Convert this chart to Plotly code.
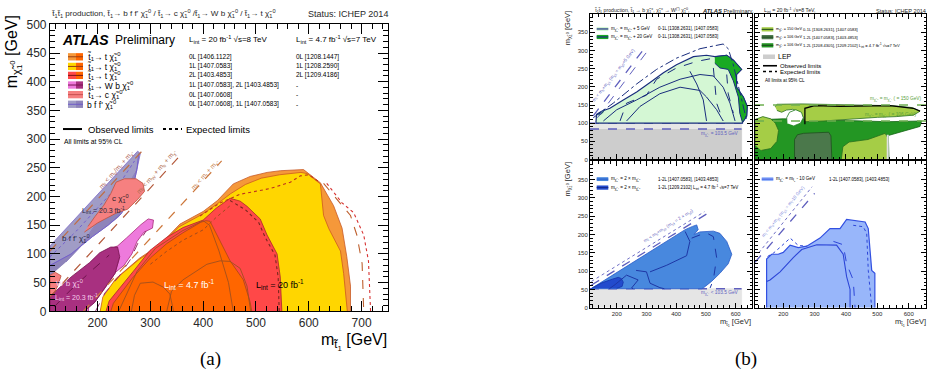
import plotly.graph_objects as go

W, H = 930, 380
SANS = "Liberation Sans, Arial, sans-serif"
SERIF = "Liberation Serif, Times New Roman, serif"
ST = "t̃<sub>1</sub>"
CHI = "χ̃<sub>1</sub><sup>0</sup>"
CHIPM = "χ̃<sub>1</sub><sup>±</sup>"

# ================= Panel (a): (m_stop, m_LSP) contours in GeV =================
a_xrange = [110, 750]
a_yrange = [0, 500]
tchi_0L_8TeV = [(206,0),(212,25),(236,58),(280,93),(318,116),(356,152),(400,174),(427,193),(457,222),(489,235),(521,242),(546,245),(590,247),(622,224),(647,184),(663,145),(672,95),(679,44),(679,0)]
tchi_1L_8TeV = [(205,0),(210,25),(234,56),(278,90),(316,113),(354,147),(398,169),(425,186),(452,205),(480,221),(510,232),(545,238),(585,242),(597,240),(622,222),(628,167),(638,144),(660,105),(666,66),(673,5),(673,0)]
tchi_2L_8TeV = [(216,0),(222,18),(268,70),(299,106),(331,129),(362,146),(400,159),(425,180),(451,197),(470,192),(483,183),(508,161),(521,133),(540,100),(546,60),(549,0)]
tchi_7TeV = [(225,0),(230,14),(265,57),(300,93),(331,118),(362,137),(395,155),(405,158),(413,157),(426,133),(451,88),(476,55),(489,16),(492,0)]
obs_7TeV_A = [(264,0),(270,28),(281,49),(305,51),(325,42),(337,30),(344,0)]
obs_7TeV_B = [(331,0),(340,35),(362,55),(407,82),(432,88),(451,87),(470,75),(483,44),(490,0)]
obs_7TeV_C = [(240,0),(275,70),(310,110),(360,140),(400,158),(412,150),(430,105),(448,50),(457,0)]
exp_0L_8TeV = [(628,223),(653,195),(679,167),(691,133),(701,83),(704,0)]
exp_2L_out = [(634,223),(663,189),(685,172),(704,133),(713,88),(717,0)]
exp_1L_8TeV = [(394,166),(430,188),(470,204),(527,214),(565,225),(584,236),(600,238),(622,224)]
exp_2L_in = [(451,193),(480,177),(505,155),(518,128),(536,98),(542,60),(544,0)]
exp_7TeV = [(300,82),(330,104),(362,124),(400,142),(425,164),(451,184)]
kin_bff = [(110,105),(287,282)]
kin_Wb = [(110,25),(358,273)]
kin_t = [(173,0),(435,262)]
bff_light = [(110,62),(110,114),(276,279),(281,275),(274,245),(255,215),(230,180),(194,148),(169,114),(140,86)]
bff_dark = [(110,62),(110,80),(150,100),(190,130),(220,150),(240,165),(260,190),(272,240),(274,245),(255,215),(230,180),(194,148),(169,114),(140,86)]
bff_line = [(110,80),(150,100),(190,130),(220,150),(245,170),(264,200),(275,250),(278,275)]
bff_exp = [(110,95),(160,140),(200,180),(240,220),(270,262)]
cchi_top = [(175,138),(200,154),(235,171),(257,178),(276,195),(289,209),(286,223),(273,231),(251,231),(235,225),(225,205),(212,185),(195,165),(182,148)]
cchi_low = [(110,28),(110,63),(120,68),(131,62),(125,45),(118,32)]
wb_2L = [(222,108),(238,114),(255,128),(268,139),(282,151),(296,161),(306,159),(304,145),(288,138),(275,122),(265,100),(250,80),(230,65),(205,43),(192,27),(183,8),(183,0),(170,0),(194,15),(216,43),(233,66),(242,95)]
wb_1L = [(110,0),(110,26),(150,60),(185,85),(204,102),(225,112),(238,112),(242,95),(233,66),(216,43),(194,15),(175,0)]
wb_1L_exp = [(118,8),(150,38),(190,72),(222,98)]
wb_2L_exp = [(196,0),(214,32),(240,60),(262,90),(276,118),(292,140)]

# ================= Panel (b): four sub-panels =================
b_xrange = [110, 655]
b_yrange = [0, 400]
# top-left: m_chi+- = m_chi0 + 5 / + 20 GeV
tl_lep_dark = [(110,0),(110,84),(620,84),(620,0)]
tl_lep_light = [(110,84),(110,100),(620,100),(620,84)]
tl_5GeV = [(130,102),(132,124),(149,133),(177,141),(222,164),(267,186),(312,212),(357,239),(401,261),(458,283),(502,287),(530,283),(570,287),(592,274),(620,248),(603,234),(603,199),(626,172),(639,146),(637,119),(623,102),(623,100),(130,100)]
tl_20GeV = [(530,283),(570,287),(592,274),(620,248),(603,234),(603,199),(626,172),(639,146),(637,119),(623,102),(614,128),(609,172),(592,217),(575,248),(547,252),(530,265)]
tl_20GeV_b = [(138,125),(150,133),(160,139),(152,128),(140,121)]
tl_exp_dd = [(121,115),(188,155),(267,208),(334,248),(401,279),(480,305),(558,318),(575,305),(592,261),(614,190),(631,128),(637,106)]
tl_obs1 = [(155,106),(200,137),(267,164),(345,199),(413,221),(480,234),(525,230),(558,199),(581,155),(598,106)]
tl_obs2 = [(233,106),(278,146),(345,181),(413,199),(480,190),(502,172),(536,137),(558,106)]
tl_obs3 = [(446,243),(469,208),(491,164),(502,106)]
tl_exp1 = [(211,106),(233,155),(300,177),(334,221),(401,252),(469,270),(525,279)]
tl_exp2 = [(525,252),(530,199),(536,155),(558,106)]
tl_exp3 = [(570,234),(575,181),(592,128)]
tl_kin1 = [(121,120),(289,302)]
tl_kin2 = [(135,115),(300,295)]
tl_lep_lines = [100, 84]
# top-right: fixed m_chi+- = 150 / 106 GeV
tr_106_7TeV = [(110,0),(110,100),(140,110),(200,112),(300,110),(400,108),(530,104),(641,106),(636,91),(535,66),(537,0)]
tr_150_top = [(174,145),(180,152),(260,153),(350,152),(450,150),(550,148),(610,143),(636,133),(615,122),(560,118),(500,116),(440,112),(390,108),(330,106),(270,104),(262,118),(250,132),(230,138),(210,136),(195,130),(180,135)]
tr_hole = [(212,100),(211,115),(220,130),(240,137),(258,130),(264,115),(255,100),(235,93)]
tr_150_left = [(110,40),(110,110),(135,118),(160,112),(175,100),(185,80),(180,50),(160,30),(130,25)]
tr_150_mid = [(385,0),(390,35),(410,48),(470,55),(525,72),(533,60),(535,0)]
tr_106_8TeV = [(236,0),(236,55),(245,68),(265,72),(345,75),(352,65),(355,0)]
tr_obs = [(269,97),(269,141),(300,148),(381,146),(540,148),(615,141),(636,133)]
tr_mass_lines = [150, 106]
# bottom-left: m_chi+- = 2 x m_chi0
bl_lep = [(110,0),(110,52),(620,52),(620,0)]
bl_8TeV = [(115,53),(430,213),(455,222),(469,226),(474,213),(460,200),(480,207),(525,209),(547,203),(570,181),(587,146),(575,120),(547,94),(519,72),(491,54),(485,52),(115,52)]
bl_7TeV = [(115,53),(150,68),(185,78),(205,83),(215,80),(222,70),(218,58),(200,53)]
bl_obs1 = [(175,52),(194,63),(233,89),(272,76),(250,54),(255,52)]
bl_obs2 = [(265,102),(300,98),(312,67),(345,55),(360,52)]
bl_obs3 = [(312,98),(368,116),(435,142),(446,181),(430,208)]
bl_exp = [(452,190),(500,205),(525,194),(536,137),(525,76),(514,54)]
bl_kin1 = [(115,62),(505,257)]
bl_kin2 = [(115,72),(495,262)]
bl_lep_line = 52
# bottom-right: m_chi+- = m_stop - 10 GeV
br_8TeV = [(147,0),(147,133),(163,146),(184,146),(200,151),(222,171),(248,164),(275,168),(317,190),(349,216),(381,216),(402,241),(461,234),(471,216),(482,102),(492,94),(492,0)]
br_obs_in = [(147,72),(158,76),(190,98),(232,137),(259,159),(307,172),(370,171),(391,146),(402,85),(413,50),(413,0)]
br_exp_dash = [(360,181),(391,172),(402,120),(423,76),(429,0)]
br_exp_dot = [(423,225),(455,221),(466,203),(471,102),(482,0)]
br_exp_dot2 = [(150,140),(170,150),(190,165),(222,190),(248,170),(275,168)]
br_kin1 = [(110,124),(300,312)]
br_kin2 = [(122,150),(292,330)]

fig = go.Figure()

def xy(pts):
    return [p[0] for p in pts], [p[1] for p in pts]

def poly(pts, ax, fill, line=None, width=0.8, opacity=1.0):
    x, y = xy(pts)
    fig.add_trace(go.Scatter(x=x, y=y, xaxis="x" + ax, yaxis="y" + ax, fill="toself",
                             fillcolor=fill, mode="lines", opacity=opacity,
                             line=dict(color=line or fill, width=width),
                             hoverinfo="skip", showlegend=False))

def curve(pts, ax, color, width=1.0, dash="solid"):
    x, y = xy(pts)
    fig.add_trace(go.Scatter(x=x, y=y, xaxis="x" + ax, yaxis="y" + ax, mode="lines",
                             line=dict(color=color, width=width, dash=dash),
                             hoverinfo="skip", showlegend=False))

def hline(yv, ax, x0, x1, color, width=1.2, dash="dash"):
    curve([(x0, yv), (x1, yv)], ax, color, width, dash)

def ptxt(px, py, s, size, color="black", xanchor="left", angle=0, family=SANS, yanchor="middle"):
    fig.add_annotation(x=px / W, y=1 - py / H, xref="paper", yref="paper", text=s, showarrow=False,
                       font=dict(size=size, color=color, family=family), xanchor=xanchor,
                       yanchor=yanchor, textangle=angle, borderpad=0)

def dtxt(x, y, ax, s, size, color="black", angle=0, xanchor="center"):
    fig.add_annotation(x=x, y=y, xref="x" + ax, yref="y" + ax, text=s, showarrow=False,
                       font=dict(size=size, color=color, family=SANS), textangle=angle,
                       xanchor=xanchor, borderpad=0)

def prect(px0, py0, px1, py1, color):
    fig.add_shape(type="rect", xref="paper", yref="paper", x0=px0 / W, x1=px1 / W,
                  y0=1 - py1 / H, y1=1 - py0 / H, fillcolor=color, line=dict(width=0), layer="above")

def pline(px0, py0, px1, py1, color, width=1.0, dash="solid"):
    fig.add_shape(type="line", xref="paper", yref="paper", x0=px0 / W, x1=px1 / W,
                  y0=1 - py0 / H, y1=1 - py1 / H, line=dict(color=color, width=width, dash=dash), layer="above")

# ---------------- Panel (a) drawing ----------------
A = ""
C_OR, C_YE, C_RE, C_DO = "rgb(245,152,58)", "rgb(255,214,0)", "rgb(255,72,72)", "rgb(255,102,0)"
C_PU, C_PUD, C_SA = "rgb(160,156,198)", "rgb(142,132,186)", "rgb(246,128,128)"
C_MA, C_PI = "rgb(168,48,128)", "rgb(238,122,220)"
poly(tchi_0L_8TeV, A, C_OR, "rgb(200,90,40)")
poly(tchi_1L_8TeV, A, C_YE, "rgb(205,90,30)")
poly(tchi_2L_8TeV, A, C_RE, "rgb(170,40,40)")
poly(tchi_7TeV, A, C_DO, "rgb(170,70,20)")
for ln in (obs_7TeV_A, obs_7TeV_B, obs_7TeV_C):
    curve(ln, A, "rgb(160,80,30)", 0.9)
curve(exp_0L_8TeV, A, "rgb(190,95,45)", 1.1, "dash")
curve(exp_2L_out, A, "rgb(215,50,50)", 1.1, "dot")
curve(exp_1L_8TeV, A, "rgb(190,50,30)", 1.1, "dot")
curve(exp_2L_in, A, "rgb(120,40,30)", 1.1, "dot")
curve(exp_7TeV, A, "rgb(160,75,30)", 1.0, "dot")
poly(bff_light, A, C_PU, "rgb(120,100,200)")
poly(bff_dark, A, C_PUD, C_PUD)
curve(bff_line, A, "rgb(115,95,205)", 1.0)
curve(bff_exp, A, "rgb(115,95,205)", 1.0, "dot")
poly(cchi_top, A, C_SA, "rgb(190,80,60)")
poly(cchi_low, A, C_SA, "rgb(190,80,60)")
poly(wb_2L, A, C_PI, "rgb(170,40,120)")
poly(wb_1L, A, C_MA, "rgb(120,20,80)")
curve(wb_1L_exp, A, "rgb(110,20,75)", 1.0, "dash")
curve(wb_2L_exp, A, "rgb(150,40,110)", 1.0, "dash")
curve(kin_bff, A, "rgb(190,110,70)", 1.2, "dash")
curve(kin_Wb, A, "rgb(180,90,60)", 1.2, "dash")
curve(kin_t, A, "rgb(205,120,60)", 1.2, "dash")

dtxt(235, 247, A, "m<sub>t̃</sub> < m<sub>b</sub>/m<sub>c</sub> + m<sub>χ̃</sub>", 6.5, "rgb(175,100,90)", -48.5)
dtxt(312, 242, A, "m<sub>t̃</sub> < m<sub>W</sub> + m<sub>b</sub> + m<sub>χ̃</sub>", 6.5, "rgb(175,110,80)", -48.5)
dtxt(403, 238, A, "m<sub>t̃</sub> < m<sub>t</sub> + m<sub>χ̃</sub>", 6.5, "rgb(200,130,80)", -48.5)
dtxt(159, 127, A, "b f f' " + CHI, 8, "rgb(40,40,70)")
dtxt(244, 196, A, "c " + CHI, 8, "rgb(50,30,40)")
dtxt(212, 176, A, "L<sub>int</sub> = 20.3 fb<sup>-1</sup>", 7, "rgb(40,40,60)")
dtxt(146, 49, A, "W b " + CHI, 8, "rgb(245,205,235)")
dtxt(160, 25, A, "L<sub>int</sub> = 20.3 fb<sup>-1</sup>", 7, "rgb(245,205,235)")
dtxt(374, 46, A, "L<sub>int</sub> = 4.7 fb<sup>-1</sup>", 9, "white")
dtxt(546, 46, A, "L<sub>int</sub> = 20 fb<sup>-1</sup>", 9, "black")

# header and legend of (a)
ptxt(50, 7, ST + ST[:2] + "<sub>1</sub> production, " + ST + "→ b f f' " + CHI + " / " + ST + "→ c " + CHI +
     " /" + ST + "→ W b " + CHI + " / " + ST + "→ t " + CHI, 8.1, "rgb(40,40,40)")
ptxt(389, 7, "Status: ICHEP 2014", 9, "rgb(40,40,40)", xanchor="right")
ptxt(61, 34, "<b><i>ATLAS</i></b>", 14)
ptxt(114, 34, "Preliminary", 12)
ptxt(188, 34, "L<sub>int</sub> = 20 fb<sup>-1</sup> √s=8 TeV", 8)
ptxt(295, 34, "L<sub>int</sub> = 4.7 fb<sup>-1</sup> √s=7 TeV", 8)
rows_py = [51.7, 61.7, 71, 81, 91, 101]
leg_names = [ST + "→ t " + CHI] * 3 + [ST + "→ W b " + CHI, ST + "→ c " + CHI, "b f f' " + CHI]
leg_ref8 = ["0L [1406.1122]", "1L [1407.0583]", "2L [1403.4853]", "1L [1407.0583], 2L [1403.4853]",
            "0L [1407.0608]", "0L [1407.0608], 1L [1407.0583]"]
leg_ref7 = ["0L [1208.1447]", "1L [1208.2590]", "2L [1209.4186]", "-", "-", "-"]
sw_left = [C_OR, C_YE, C_RE, C_PI, C_SA, C_PU]
sw_right = [C_DO, C_DO, C_DO, C_MA, C_SA, C_PUD]
sw_line = ["rgb(150,60,20)", "rgb(150,60,20)", "rgb(120,20,20)", "rgb(120,20,80)", "rgb(200,80,80)", "rgb(110,90,200)"]
for i, py in enumerate(rows_py):
    prect(68, py - 3.8, 76, py + 3.8, sw_left[i])
    prect(76, py - 3.8, 83, py + 3.8, sw_right[i])
    pline(68, py, 83, py, sw_line[i], 1)
    ptxt(86, py, leg_names[i], 8.5)
    ptxt(188, py, leg_ref8[i], 6.5)
    ptxt(295, py, leg_ref7[i], 6.5)
pline(63, 126.7, 82, 126.7, "black", 2)
ptxt(87, 126.7, "Observed limits", 9.5)
pline(163, 126.7, 182, 126.7, "black", 2, "dot")
ptxt(185, 126.7, "Expected limits", 9.5)
ptxt(63, 140, "All limits at 95% CL", 6.8)
ptxt(14, 47, "m<sub>" + CHI + "</sub> [GeV]", 16, angle=-90, xanchor="center")
ptxt(388, 348, "m<sub>" + ST + "</sub> [GeV]", 16, xanchor="right")
ptxt(210, 365, "(a)", 19, family=SERIF, xanchor="center")
ptxt(746, 365, "(b)", 19, family=SERIF, xanchor="center")

# ---------------- Panel (b) drawing ----------------
NAVY = "rgb(25,45,125)"
KIN = "rgb(95,95,190)"
# TL
poly(tl_lep_dark, "2", "rgb(205,205,205)")
poly(tl_lep_light, "2", "rgb(230,230,230)")
for yv in tl_lep_lines:
    hline(yv, "2", 110, 620, KIN, 1.5, "dash")
poly(tl_5GeV, "2", "rgb(212,247,212)", NAVY, 1.2)
poly(tl_20GeV, "2", "rgb(25,170,35)", NAVY, 1.0)
poly(tl_20GeV_b, "2", "rgb(25,170,35)", NAVY, 0.8)
curve(tl_exp_dd, "2", NAVY, 1.0, "dashdot")
for ln in (tl_obs1, tl_obs2, tl_obs3):
    curve(ln, "2", NAVY, 1.0)
for ln in (tl_exp1, tl_exp2, tl_exp3):
    curve(ln, "2", NAVY, 1.0, "dash")
curve(tl_kin1, "2", KIN, 1.3, "dash")
curve(tl_kin2, "2", KIN, 1.0, "dash")
dtxt(192, 232, "2", "m<sub>t̃</sub> < m<sub>b</sub>+m<sub>χ̃±</sub> (m<sub>χ̃±</sub> = m<sub>χ̃0</sub>+5 GeV)", 4.6, KIN, -51.7)
ptxt(740, 131.7, "m<sub>" + CHIPM + "</sub> = 103.5 GeV", 4.8, KIN, xanchor="right")
prect(596.7, 20.7, 608.3, 25, "rgb(212,247,212)")
pline(596.7, 22.8, 608.3, 22.8, NAVY, 1.2)
prect(596.7, 29, 608.3, 33.3, "rgb(25,170,35)")
pline(596.7, 31.1, 608.3, 31.1, NAVY, 1.2)
ptxt(610, 22.8, "m<sub>" + CHIPM + "</sub> = m<sub>" + CHI + "</sub> + 5 GeV", 4.5)
ptxt(657, 22.8, "0-1L [1308.2631], [1407.0583]", 4.5)
ptxt(610, 31.1, "m<sub>" + CHIPM + "</sub> = m<sub>" + CHI + "</sub> + 20 GeV", 4.5)
ptxt(657, 31.1, "0-1L [1308.2631], [1407.0583]", 4.5)

# TR
G_LT, G_MD, G_DK = "rgb(165,205,70)", "rgb(35,150,35)", "rgb(75,120,75)"
poly(tr_106_7TeV, "3", G_MD, "rgb(20,100,20)")
poly(tr_150_top, "3", G_LT, "rgb(40,110,30)")
poly(tr_hole, "3", "white", "rgb(30,120,30)")
poly(tr_150_left, "3", G_LT, "rgb(40,110,30)")
poly(tr_150_mid, "3", G_LT, "rgb(40,110,30)")
poly(tr_106_8TeV, "3", G_DK, "rgb(30,80,30)")
curve(tr_obs, "3", "black", 1.3)
curve([(533, 0), (533, 68)], "3", "rgb(225,225,225)", 2)
for yv in tr_mass_lines:
    hline(yv, "3", 110, 655, "rgb(110,175,80)", 1.4, "dash")
ptxt(923, 95, "m<sub>" + CHI + "</sub> = m<sub>" + CHIPM + "</sub> ( = 150 GeV)", 4.8, "rgb(90,160,60)", xanchor="right")
ptxt(918, 112, "m<sub>" + CHI + "</sub> = m<sub>" + CHIPM + "</sub> ( = 106 GeV)", 4.8, "rgb(90,160,60)", xanchor="right")
tr_sw = [G_LT, G_DK, G_MD]
tr_mass = ["150", "106", "106"]
tr_refs = ["0-1L [1308.2631], [1407.0583]", "1-2L [1407.0583], [1403.4853]",
           "1-2L [1208.4305], [1209.2102] L<sub>int</sub> = 4.7 fb<sup>-1</sup> √s=7 TeV"]
for i, py in enumerate([23.2, 31.3, 39.8]):
    prect(761.7, py - 2.2, 773.3, py + 2.2, tr_sw[i])
    pline(761.7, py, 773.3, py, "rgb(30,70,30)", 1)
    ptxt(775, py, "m<sub>" + CHIPM + "</sub> = " + tr_mass[i] + " GeV", 3.8)
    ptxt(802, py, tr_refs[i], 4.1)
prect(763, 49.3, 775, 54, "rgb(205,205,205)")
ptxt(777, 51.7, "LEP", 7)
pline(763, 61, 777, 61, "black", 1.6)
ptxt(779, 61, "Observed limits", 6)
pline(763, 67, 777, 67, "black", 1.6, "dot")
ptxt(779, 67, "Expected limits", 6)
ptxt(764, 76, "All limits at 95% CL", 4.6)

# BL
B_MD, B_DK = "rgb(72,136,222)", "rgb(35,75,205)"
poly(bl_lep, "4", "rgb(229,229,229)")
hline(bl_lep_line, "4", 110, 620, KIN, 1.5, "dash")
poly(bl_8TeV, "4", B_MD, "rgb(40,90,200)")
poly(bl_7TeV, "4", B_DK, "rgb(20,50,170)")
for ln in (bl_obs1, bl_obs2, bl_obs3):
    curve(ln, "4", "rgb(30,55,165)", 1.0)
curve(bl_exp, "4", "rgb(30,55,165)", 1.0, "dash")
curve(bl_kin1, "4", KIN, 1.3, "dash")
curve(bl_kin2, "4", KIN, 0.9, "dot")
dtxt(375, 222, "4", "m<sub>t̃</sub> < m<sub>b</sub>+m<sub>χ̃±</sub> (m<sub>χ̃±</sub> = 2 × m<sub>χ̃0</sub>)", 4.6, KIN, -32.6)
ptxt(740, 296.7, "m<sub>" + CHIPM + "</sub> < 103.5 GeV", 4.8, KIN, xanchor="right")
prect(596.7, 176.7, 608.3, 180.7, B_MD)
pline(596.7, 178.7, 608.3, 178.7, "rgb(40,90,200)", 1)
prect(596.7, 185.3, 608.3, 189.7, B_DK)
pline(596.7, 187.5, 608.3, 187.5, "rgb(20,40,140)", 1)
ptxt(610, 178.7, "m<sub>" + CHIPM + "</sub> = 2 × m<sub>" + CHI + "</sub>", 4.6)
ptxt(656.7, 178.7, "1-2L [1407.0583], [1403.4853]", 4.5)
ptxt(610, 187.5, "m<sub>" + CHIPM + "</sub> = 2 × m<sub>" + CHI + "</sub>", 4.6)
ptxt(656.7, 187.5, "1-2L [1209.2102] L<sub>int</sub> = 4.7 fb<sup>-1</sup> √s=7 TeV", 4.5)

# BR
B_LT = "rgb(152,182,250)"
poly(br_8TeV, "5", B_LT, "rgb(50,80,225)", 1.2)
curve(br_obs_in, "5", "rgb(45,70,215)", 1.1)
curve(br_exp_dash, "5", "rgb(45,70,215)", 1.0, "dash")
curve(br_exp_dot, "5", "rgb(45,70,215)", 1.0, "dot")
curve(br_exp_dot2, "5", "rgb(45,70,215)", 1.0, "dot")
curve(br_kin1, "5", KIN, 1.3, "dash")
curve(br_kin2, "5", KIN, 0.9, "dot")
dtxt(200, 262, "5", "m<sub>t̃</sub> < m<sub>b</sub>+m<sub>χ̃±</sub> (m<sub>χ̃±</sub> = m<sub>t̃</sub>-10 GeV)", 4.6, "rgb(130,140,220)", -50.5)
prect(761.7, 176.7, 773.3, 180.7, B_LT)
pline(761.7, 178.7, 773.3, 178.7, "rgb(50,80,225)", 1)
ptxt(775, 178.7, "m<sub>" + CHIPM + "</sub> = m<sub>" + ST + "</sub> - 10 GeV", 4.6)
ptxt(828.3, 178.7, "1-2L [1407.0583], [1403.4853]", 4.5)

# panel (b) titles and axis labels
ptxt(593, 4, ST + ST[:2] + "<sub>1</sub> production, " + ST + " → b " + CHIPM + ", " + CHIPM + " → W<sup>(*)</sup> " + CHI + ",", 5.2, "rgb(40,40,40)")
ptxt(701, 4, "<b><i>ATLAS</i></b> Preliminary,", 5.8, "rgb(30,30,30)")
ptxt(763, 4, "L<sub>int</sub> = 20 fb<sup>-1</sup> √s=8 TeV,", 5.2, "rgb(40,40,40)")
ptxt(927, 4, "Status: ICHEP 2014", 5.6, "rgb(40,40,40)", xanchor="right")
ptxt(568, 22, "m<sub>" + CHI + "</sub> [GeV]", 7.5, "rgb(40,40,40)", angle=-90, xanchor="center")
ptxt(568, 179, "m<sub>" + CHI + "</sub> [GeV]", 7.5, "rgb(40,40,40)", angle=-90, xanchor="center")
ptxt(752, 328, "m<sub>" + ST + "</sub> [GeV]", 7.5, "rgb(40,40,40)", xanchor="right")
ptxt(927, 328, "m<sub>" + ST + "</sub> [GeV]", 7.5, "rgb(40,40,40)", xanchor="right")

# ---------------- axes ----------------
def axis(domain, rng, dtick, mdtick, labels, ticklen, fsize, anchor, tickvals=None, lw=1.0):
    d = dict(domain=domain, range=rng, showgrid=False, zeroline=False, showline=True,
             linecolor="black", linewidth=lw, mirror="allticks", ticks="inside", ticklen=ticklen,
             tickwidth=1, tickcolor="black", showticklabels=labels, anchor=anchor,
             tickfont=dict(size=fsize, color="rgb(40,40,40)", family=SANS),
             minor=dict(ticks="inside", ticklen=ticklen / 2, dtick=mdtick, tick0=0, tickcolor="black", showgrid=False))
    if tickvals is not None:
        d["tickvals"] = tickvals
    else:
        d["dtick"] = dtick
        d["tick0"] = 0
    return d

def px2fx(a, b):
    return [a / W, b / W]

def py2fy(top, bottom):
    return [1 - bottom / H, 1 - top / H]

b_yticks = list(range(0, 400, 50))
layout = dict(
    xaxis=axis(px2fx(50, 388), a_xrange, 100, 20, True, 10, 12, "y", lw=1.2),
    yaxis=axis(py2fy(18, 316), a_yrange, 50, 10, True, 10, 12, "x", lw=1.2),
    xaxis2=axis(px2fx(590, 752), b_xrange, 100, 20, False, 5, 6, "y2"),
    yaxis2=axis(py2fy(7.5, 158.3), b_yrange, 50, 10, True, 5, 6, "x2", tickvals=b_yticks),
    xaxis3=axis(px2fx(755, 926), b_xrange, 100, 20, False, 5, 6, "y3"),
    yaxis3=axis(py2fy(7.5, 158.3), b_yrange, 50, 10, False, 5, 6, "x3", tickvals=b_yticks),
    xaxis4=axis(px2fx(590, 752), b_xrange, 100, 20, True, 5, 6, "y4"),
    yaxis4=axis(py2fy(160, 312.3), b_yrange, 50, 10, True, 5, 6, "x4", tickvals=b_yticks),
    xaxis5=axis(px2fx(755, 926), b_xrange, 100, 20, True, 5, 6, "y5"),
    yaxis5=axis(py2fy(160, 312.3), b_yrange, 50, 10, False, 5, 6, "x5", tickvals=b_yticks),
)
fig.update_layout(**layout)
fig.update_layout(width=W, height=H, margin=dict(l=0, r=0, t=0, b=0), paper_bgcolor="white",
                  plot_bgcolor="white", showlegend=False, font=dict(family=SANS))
fig.write_html("out.html")
